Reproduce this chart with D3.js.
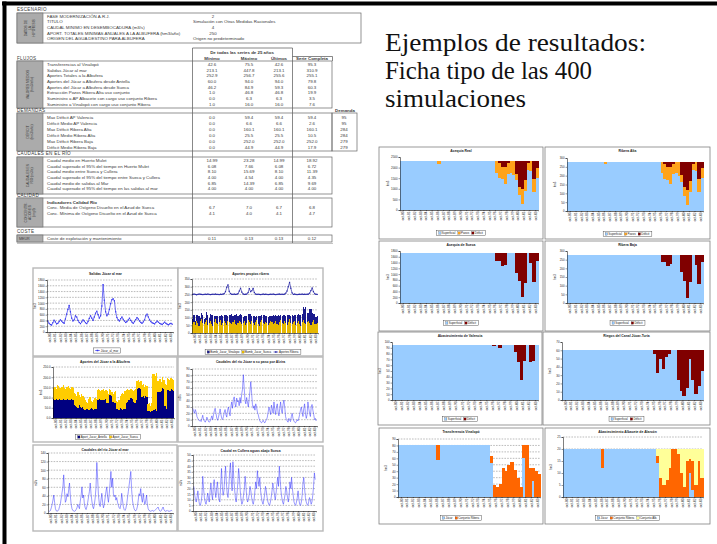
<!DOCTYPE html>
<html lang="es">
<head>
<meta charset="utf-8">
<title>Ficha tipo de simulación</title>
<script src="https://cdn.jsdelivr.net/npm/d3@7/dist/d3.min.js"></script>
<style>
html,body{margin:0;padding:0;background:#fff;}
svg{display:block;}
</style>
</head>
<body>
<svg id="chart" width="717" height="544"></svg>
<script>
// ======================= DATA =======================
const tituloDiapositiva = ["Ejemplos de resultados:", "Ficha tipo de las 400", "simulaciones"];

const hipotesisEtiquetas = ["FASE MODERNIZACIÓN A.R.J.", "TÍTULO", "CAUDAL MÍNIMO EN DESEMBOCADURA (m3/s)", "APORT. TOTALES MÍNIMAS ANUALES A LA ALBUFERA (hm3/año)", "ORIGEN DEL AGUA DESTINO PARA ALBUFERA"];
const hipotesisValores = ["2", "Simulación con Otras Medidas Racionales", "4", "250", "Origen no predeterminado"];
const columnasResumen = ["Mínimo", "Máximo", "Últimos", "Serie Completa"];

const flujosEtiquetas = ["Transferencias al Vinalopó", "Salidas Júcar al mar", "Aportes Totales a la Albufera", "Aportes del Júcar a Albufera desde Antella", "Aportes del Júcar a Albufera desde Sueca", "Extracción Pozos Ribera Alta uso conjunto", "Suministro a AP Albacete con cargo uso conjunto Ribera", "Suministro a Vinalopó con cargo uso conjunto Ribera"];
const flujosValores = [["42.6","75.5","42.6","95.3"],["213.1","447.8","213.1","310.9"],["252.9","256.7","255.6","255.1"],["60.0","94.0","94.0","79.8"],["46.2","84.9","59.3","60.3"],["1.0","46.8","46.8","19.9"],["0.0","6.3","6.3","3.5"],["1.0","16.0","16.0","7.6"]];

const deficitEtiquetas = ["Max Déficit AP Valencia", "Déficit Medio AP Valencia", "Max Déficit Ribera Alta", "Déficit Medio Ribera Alta", "Max Déficit Ribera Baja", "Déficit Medio Ribera Baja"];
const deficitValores = [["0.0","59.4","59.4","59.4"],["0.0","6.6","6.6","2.6"],["0.0","160.1","160.1","160.1"],["0.0","25.5","25.5","10.5"],["0.0","252.0","252.0","252.0"],["0.0","44.9","44.9","17.9"]];
const demandaValores = ["95","95","284","284","279","279"];

const caudalesEtiquetas = ["Caudal medio en Huerto Mulet", "Caudal superado el 95% del tiempo en Huerto Mulet", "Caudal medio entre Sueca y Cullera", "Caudal superado el 95% del tiempo entre Sueca y Cullera", "Caudal medio de salidas al Mar", "Caudal superado el 95% del tiempo en las salidas al mar"];
const caudalesValores = [["14.99","23.28","14.99","18.92"],["6.08","7.66","6.08","6.72"],["8.10","15.69","8.10","11.39"],["4.00","4.54","4.00","4.35"],["6.85","14.39","6.85","9.69"],["4.00","4.00","4.00","4.00"]];

const calidadEtiquetas = ["Conc. Media de Oxígeno Disuelto en el Azud de Sueca", "Conc. Mínima de Oxígeno Disuelto en el Azud de Sueca"];
const calidadValores = [["6.7","7.0","6.7","6.8"],["4.1","4.0","4.1","4.7"]];
const costeEtiquetas = ["Coste de explotación y mantenimiento"];
const costeValores = [["0.11","0.13","0.13","0.12"]];

const etiquetasAnios = ["oct-80","oct-81","oct-82","oct-83","oct-84","oct-85","oct-86","oct-87","oct-88","oct-89","oct-90","oct-91","oct-92","oct-93","oct-94","oct-95","oct-96","oct-97","oct-98","oct-99","oct-00","oct-01","oct-02","oct-03"];

// ---- left charts (monthly / daily series)
const salidasJucarMar = [
380,300,260,240,320,410,350,280,300,360,
420,380,330,300,450,620,780,920,700,480,
380,420,560,520,400,330,290,350,420,380,
320,290,360,470,560,480,400,520,650,720,
600,480,560,900,1640,1100,700,560,620,780,
980,1120,1150,1080,700,500,420,380,460,520,
440,380,330,360,420,480,400,340,300,360,
430,500,450,380,330,300,350,420,560,620,
520,420,360,320,300,280,330,380,340,300,
280,260,300,340,300,270,250,280,300,270];

const aportesRibera = [
250,252,250,248,250,252,251,250,249,250,
251,250,252,250,249,250,251,250,252,250,
250,249,251,250,252,255,268,296,312,270,
255,251,250,252,250,251,255,272,290,265,
253,250,251,252,262,288,268,274,289,262,
252,250,251,250,249,250,252,250,251,250,
249,250,251,250,252,250,249,250,251,252,
250,251,250,252,258,272,300,328,290,260,
250,252,250,249,250,251,250,252,250,251,
250,251,252,258,275,292,268,254,251,250];

const bombJucarSueca = [
60,72,55,80,66,48,75,90,62,58,
70,84,52,66,78,60,45,72,88,64,
56,70,82,50,68,76,62,54,80,70,
64,58,74,86,60,52,68,80,72,56,
66,78,50,62,84,70,58,76,64,52,
72,86,60,48,70,82,66,58,74,62,
50,68,80,72,56,64,78,60,52,70,
84,66,58,76,62,50,72,88,64,56,
70,80,54,66,78,60,48,74,86,62,
58,72,80,66,52,70,84,60,56,68];

const bombJucarVinalopo = [
30,45,20,38,52,60,25,40,55,35,
28,50,62,30,42,58,70,35,22,48,
55,40,30,66,45,38,52,60,28,44,
50,62,36,30,55,68,42,34,48,60,
38,30,58,46,40,52,64,36,44,56,
30,24,48,62,40,34,52,60,38,46,
56,42,30,40,58,48,36,52,62,40,
30,46,56,38,50,64,42,30,48,58,
40,36,60,50,42,58,70,46,80,96,
110,60,52,88,104,58,40,62,50,44];

const aportJucarAntella = [
92,90,94,88,90,92,86,90,94,88,
90,92,88,86,90,92,88,
62,58,55,50,64,56,48,52,
44,40,46,42,40,44,48,42,40,46,44,
90,88,92,90,86,90,88,92,
74,72,112,115,110,76,72,74,
46,42,40,48,44,40,46,42,
72,76,90,96,98,92,80,74,86,
140,145,148,142,
104,108,100,106,102,
32,34,30,36,
40,38,42,36,
128,130,126,132,
146,140,60,44,
136,138,134,140,136,132];

const aportJucarSueca = [
53,60,46,72,65,53,54,60,66,60,
52,58,70,59,50,60,60,
63,62,55,78,51,49,70,58,
56,50,34,33,55,61,37,36,50,54,51,
45,52,46,42,50,50,46,46,
56,46,28,20,18,44,54,58,
39,38,50,62,76,85,72,88,
63,64,48,34,44,44,54,64,54,
40,40,27,40,
56,57,50,56,56,
38,41,30,36,
175,180,163,184,
52,40,64,43,
54,45,105,116,
59,52,54,54,56,53];

const caudalAlzira = [
28,24,20,26,22,15,12,10,8,9,
7,12,17,10,8,6,9,14,11,7,
6,8,12,16,10,18,24,28,20,12,
9,14,20,27,18,12,10,15,22,26,
18,14,25,30,22,16,31,38,28,42,
46,35,30,44,38,40,32,45,36,50,
58,81,62,40,35,45,38,30,42,55,
70,52,34,28,32,25,35,30,22,18,
12,8,6,5,7,9,6,5,8,10,
14,22,30,24,18,33,28,20,38,26,
18,30,35,22,16,28,38,25,20,34,
41,30,15,10,8,6,12,9,7,15,
20,12,8,6,5,7,10,8,12,18,
25,30,22,15,28,35,20,12,18,38,
28,20,15,30,34,25,18,10,12,8];

const caudalMar = [
5,4,6,12,20,30,42,25,10,5,
4,5,8,15,22,35,48,60,89,50,
25,30,45,38,54,70,40,20,10,6,
5,4,5,8,12,20,15,10,28,40,
61,35,42,20,12,8,15,25,38,50,
70,45,28,15,10,20,35,60,118,80,
40,22,15,30,46,25,12,20,35,50,
61,38,25,45,70,97,60,81,45,38,
42,30,36,25,18,12,10,20,46,30,
15,8,6,10,20,35,50,65,80,97,
55,30,18,10,6,5,8,15,30,45,
40,57,35,25,46,30,20,28,42,20,
10,6,5,4,5,6,5,4,6,8,
10,12,14,8,5,4,6,10,14,8,
5,4,5,6,4,5,4,5,6,5];

const caudalCullera = [
22,15,10,8,12,18,10,6,5,8,
14,31,20,12,8,6,10,16,12,8,
18,25,15,10,22,28,18,12,20,26,
15,10,8,24,38,22,14,18,30,40,
25,15,12,22,35,43,28,18,44,30,
20,12,8,15,25,38,30,18,10,6,
8,14,20,31,22,12,8,10,15,22,
18,12,8,6,10,18,26,20,36,28,
22,30,18,12,8,6,10,15,22,18,
12,8,6,5,8,12,18,25,20,14,
10,16,24,30,22,40,28,18,12,8,
6,10,15,22,18,12,8,14,26,20,
30,20,14,8,6,5,8,12,18,10,
6,5,8,14,25,30,20,12,8,6,
5,8,12,10,6,8,14,22,34,28];

// ---- right charts (annual supply vs demand, hm3)
const acequiaRealDemanda = 2300;
const acequiaRealPozos = [0,0,0,0,0,0,0,0,0,0, 0,0,0,120,0,0,0,0,0,0, 0,0,0,0,0,0,0,0,0,0, 0,0,0,550,700,600,800,500,550,650, 300,400,700,500,300,450,600,500];
const acequiaRealDeficit = [0,0,0,0,0,0,0,0,0,0, 0,0,0,0,0,0,0,0,0,0, 0,0,0,0,0,0,0,0,0,0, 0,0,0,0,100,250,250,100,0,0, 600,1200,1300,900,100,0,850,300];

const riberaAltaDemanda = 280;
const riberaAltaPozos = [0,0,0,0,0,0,0,0,0,0, 0,0,0,15,0,0,0,0,0,0, 0,0,0,0,0,0,0,0,0,0, 0,0,0,65,85,75,95,60,65,80, 40,50,85,60,35,55,75,60];
const riberaAltaDeficit = [0,0,0,0,0,0,0,0,0,0, 0,0,0,0,0,0,0,0,0,0, 0,0,0,0,0,0,0,0,0,0, 0,0,0,0,12,30,30,12,0,0, 75,145,160,110,12,0,100,35];

const acequiaSuecaDemanda = 1720;
const acequiaSuecaDeficit = [0,0,0,0,0,0,0,0,0,0, 0,0,0,0,0,0,0,0,0,0, 0,0,0,0,0,0,0,0,0,0, 0,0,0,250,250,450,400,0,0,0, 680,970,1510,1020,0,350,1000,250];

const riberaBajaDemanda = 279;
const riberaBajaDeficit = [0,0,0,0,0,0,0,0,0,0, 0,0,0,0,0,0,0,0,0,0, 0,0,0,0,0,0,0,0,0,0, 0,0,0,40,40,65,55,0,0,0, 100,150,250,160,0,60,170,40];

const valenciaDemanda = 95;
const valenciaDeficit = [0,0,0,0,0,0,0,0,0,0, 0,0,0,0,0,0,0,0,0,0, 0,0,0,0,0,0,0,0,0,0, 0,0,0,2,0,6,0,0,0,0, 12,30,60,28,0,30,28,0];

const turiaDemanda = 60;
const turiaDeficit = [0,0,0,0,0,0,0,0,0,0, 0,0,0,0,0,0,0,0,0,0, 0,0,0,0,0,0,0,0,0,0, 0,5,28,10,22,8,5,0,0,36, 49,55,45,10,36,53,43,25];

const vinalopoJucar = [80,80,80,80,80,80,80,80,80,80, 80,80,80,58,80,80,80,80,80,80, 80,80,80,80,80,80,80,80,80,80, 80,52,0,0,0,0,0,0,0,0, 0,0,60,0,0,25,0,0];
const vinalopoRibera = [0,0,0,0,0,0,0,0,0,0, 0,0,0,22,0,0,0,0,0,0, 0,0,0,0,0,0,0,0,0,0, 0,11,18,15,20,45,40,50,55,42, 30,15,20,80,45,20,40,35];

const albaceteJucar = [20,20,20,20,20,20,20,20,20,20, 20,20,20,12,20,20,20,20,20,20, 20,20,20,20,20,20,20,20,20,20, 20,20,14,0,0,0,0,0,0,0, 0,0,0,10,3,0,0,0];
const albaceteRibera = [0,0,0,0,0,0,0,0,0,0, 0,0,0,8,0,0,0,0,0,0, 0,0,0,0,0,0,0,0,0,0, 0,0,3,8,5,7,12,20,20,18, 10,4,15,6,12,5,15,8];
const albaceteAlb = [0,0,0,0,0,0,0,0,0,0, 0,0,0,0,0,0,0,0,0,0, 0,0,0,0,0,0,0,0,0,0, 0,0,3,12,15,13,8,0,0,2, 10,16,5,4,5,15,5,12];

// ======================= DRAWING =======================
const FONT = "'Liberation Sans', Arial, sans-serif";
const svg = d3.select("#chart");
svg.append("rect").attr("width",717).attr("height",544).attr("fill","#fff");

// slide frame
svg.append("rect").attr("x",2).attr("y",1.5).attr("width",715).attr("height",4).attr("fill","#000");
svg.append("rect").attr("x",2.5).attr("y",1.5).attr("width",4).attr("height",543).attr("fill","#000");

// slide title
const titleWidths = [261, 207, 141];
svg.append("g").selectAll("text").data(tituloDiapositiva).join("text")
  .attr("x",385).attr("y",(d,i)=>51+i*28)
  .attr("font-family","'Liberation Serif','DejaVu Serif',serif").attr("font-size",25).attr("fill","#111")
  .attr("textLength",(d,i)=>titleWidths[i]).attr("lengthAdjust","spacingAndGlyphs")
  .text(d=>d);

// ---------------- summary table ----------------
const tg = svg.append("g").attr("font-family",FONT);
const TF = 4.4, TC = "#3a3a3a";
const colX = [212,249,279,312];
function T(x,y,s,anchor="start",bold=false,size=TF,ls=0){
  tg.append("text").attr("x",x).attr("y",y).attr("text-anchor",anchor).attr("font-size",size)
    .attr("font-weight",bold?"bold":"normal").attr("letter-spacing",ls).attr("fill",TC).text(s);
}
function R(x,y,w,h,fill="none",stroke="#666",sw=0.7){
  tg.append("rect").attr("x",x).attr("y",y).attr("width",w).attr("height",h).attr("fill",fill).attr("stroke",stroke).attr("stroke-width",sw);
}
function L(x1,y1,x2,y2,sw=0.7,c="#555"){
  tg.append("line").attr("x1",x1).attr("y1",y1).attr("x2",x2).attr("y2",y2).attr("stroke",c).attr("stroke-width",sw);
}
function side(x0,y0,x1,y1,lines){
  R(x0,y0,x1-x0,y1-y0,"#ababab","#6a6a6a",0.6);
  const cx=(x0+x1)/2, cy=(y0+y1)/2, n=lines.length, lh=3.8;
  lines.forEach((s,i)=>{
    const x=cx+(i-(n-1)/2)*lh+1.2;
    tg.append("text").attr("transform",`translate(${x},${cy}) rotate(-90)`).attr("text-anchor","middle")
      .attr("font-size",3.3).attr("fill","#3a3a3a").text(s);
  });
}
function filas(etq,vals,cy0,dy){
  etq.forEach((s,i)=>{
    const y=cy0+i*dy+1.5;
    T(47,y,s);
    vals[i].forEach((v,j)=>T(colX[j],y,v,"middle"));
  });
}
// Escenario
T(17,11,"ESCENARIO","start",false,4.6,0.3);
R(17,13,344,30);
side(17,13,43,43,["DATOS DE","LA","HIPÓTESIS"]);
hipotesisEtiquetas.forEach((s,i)=>{
  const y=16+i*5.7+1.5;
  T(47,y,s);
  const v=hipotesisValores[i];
  if(/^\d+$/.test(v)) T(213,y,v,"middle"); else T(193,y,v);
});
// column block
L(192.5,48,292.5,48); L(192.5,48,192.5,243); L(292.5,48,292.5,243);
T(242,53.5,"De todas las series de 25 años","middle",true);
columnasResumen.forEach((s,i)=>T(colX[i],59.5,s,"middle",true));
L(292.5,56.5,332.5,56.5); L(332.5,56.5,332.5,61);
// Flujos
T(17,59.5,"FLUJOS","start",false,4.6,0.3);
R(17,61,315,47);
side(17,61,43,108,["VALORES MEDIOS","(hm3/año)"]);
filas(flujosEtiquetas,flujosValores,64.3,5.7);
// Demandas
T(17,112,"DEMANDAS","start",false,4.6,0.3);
T(345,112,"Demanda","middle",true);
R(17,113,315,38); R(332,113,25,38);
side(17,113,43,151,["DÉFICIT","(hm3/año)"]);
filas(deficitEtiquetas,deficitValores,117.3,6);
demandaValores.forEach((v,i)=>T(344,117.3+i*6+1.5,v,"middle"));
// Caudales
T(17,155,"CAUDALES EN EL RÍO","start",false,4.6,0.3);
R(17,157,315,37);
side(17,157,43,194,["CAUDALES EN","RÍO (m3/s)"]);
filas(caudalesEtiquetas,caudalesValores,160.7,5.6);
// Calidad
T(17,197,"CALIDAD","start",false,4.6,0.3);
R(17,198,315,29);
side(17,198,43,227,["CONCENTR-","ACIONES","(mg/l)"]);
T(47,203.6,"Indicadores Calidad Río","start",true);
filas(calidadEtiquetas,calidadValores,207.6,5.6);
// Coste
T(17,233,"COSTE","start",false,4.6,0.3);
R(17,235,315,7);
R(17,235,26,7,"#ababab","#6a6a6a",0.6);
T(19,240,"MEUR","start",false,3.6);
filas(costeEtiquetas,costeValores,238.5,0);
L(17,243.5,333,243.5,0.5,"#888");

// ---------------- chart helpers ----------------
function panelBase(b,title,titleY,border,bw){
  const g=svg.append("g").attr("font-family",FONT);
  g.append("rect").attr("x",b[0]).attr("y",b[1]).attr("width",b[2]).attr("height",b[3])
    .attr("fill","#fff").attr("stroke",border).attr("stroke-width",bw);
  g.append("text").attr("x",b[0]+b[2]/2).attr("y",titleY).attr("text-anchor","middle")
    .attr("font-size",3.4).attr("font-weight","bold").attr("fill","#222").text(title);
  return g;
}
function yAxis(g,p,y,ticks,fmt,unit){
  const a=g.append("g").attr("transform",`translate(${p[0]},0)`)
    .call(d3.axisLeft(y).tickValues(ticks).tickSize(1.5).tickPadding(1).tickFormat(fmt));
  a.select(".domain").attr("stroke","#000").attr("stroke-width",0.5);
  a.selectAll(".tick line").attr("stroke","#000").attr("stroke-width",0.4);
  a.selectAll("text").attr("font-size",2.9).attr("fill","#222").attr("font-family",FONT);
  g.append("text").attr("transform",`translate(${p[0]-11},${(p[1]+p[3])/2}) rotate(-90)`)
    .attr("text-anchor","middle").attr("font-size",2.8).attr("fill","#222").text(unit);
}
function xAxis(g,p,labels){
  const xs=d3.scalePoint().domain(labels).range([p[0],p[2]]).padding(0.5);
  const a=g.append("g").attr("transform",`translate(0,${p[3]})`)
    .call(d3.axisBottom(xs).tickSize(1.2).tickPadding(0));
  a.select(".domain").attr("stroke","#000").attr("stroke-width",0.6);
  a.selectAll(".tick line").attr("stroke","#000").attr("stroke-width",0.4);
  a.selectAll("text").attr("font-size",3.1).attr("fill","#222").attr("font-family",FONT)
    .attr("text-anchor","end").attr("transform","rotate(-90)").attr("x",-1.6).attr("y",0).attr("dy","0.35em");
}
function grid(g,p,y,ticks){
  g.append("g").selectAll("line").data(ticks.filter(t=>t>0)).join("line")
    .attr("x1",p[0]).attr("x2",p[2]).attr("y1",d=>y(d)).attr("y2",d=>y(d))
    .attr("stroke","#555").attr("stroke-width",0.4).attr("stroke-dasharray","1.6,1.2");
}
function legend(g,cx,cy,items){
  const lg=g.append("g").attr("font-family",FONT);
  const box=lg.append("rect").attr("fill","#fff").attr("stroke","#333").attr("stroke-width",0.4);
  let x=0;
  items.forEach(it=>{
    if(it.type==="line"){
      lg.append("line").attr("x1",x).attr("x2",x+4.5).attr("y1",0).attr("y2",0).attr("stroke",it.color).attr("stroke-width",0.7);
      lg.append("rect").attr("x",x+1.5).attr("y",-0.75).attr("width",1.5).attr("height",1.5).attr("fill",it.color);
      x+=5.5;
    } else {
      lg.append("rect").attr("x",x).attr("y",-1.2).attr("width",2.4).attr("height",2.4).attr("fill",it.color).attr("stroke","#222").attr("stroke-width",0.2);
      x+=3.2;
    }
    const t=lg.append("text").attr("x",x).attr("y",1).attr("font-size",2.9).attr("fill","#222").text(it.name);
    x+=t.node().getComputedTextLength()+2.5;
  });
  const w=x+1;
  box.attr("x",-2).attr("y",-2.6).attr("width",w+1).attr("height",5.2);
  lg.attr("transform",`translate(${cx-(w-3)/2},${cy})`);
}

// ---------------- right panels (stacked supply) ----------------
function rightPanel(o){
  const g=panelBase(o.box,o.title,o.box[1]+5.2,"#808080",0.8);
  const p=o.plot;
  const n=o.layers[0].values.length;
  const x=d3.scaleBand().domain(d3.range(n)).range([p[0],p[2]]);
  const y=d3.scaleLinear().domain([0,o.yMax]).range([p[3],p[1]]);
  const ticks=d3.range(0,o.yMax+o.yStep/2,o.yStep);
  if(o.grid) grid(g,p,y,ticks);
  const keys=o.layers.map((l,j)=>"k"+j);
  const rows=d3.range(n).map(i=>{const r={}; o.layers.forEach((l,j)=>r["k"+j]=l.values[i]); return r;});
  const st=d3.stack().keys(keys)(rows);
  st.forEach((s,j)=>{
    g.append("g").attr("fill",o.layers[j].color).attr("shape-rendering","crispEdges")
      .selectAll("rect").data(s).join("rect")
      .attr("x",(d,i)=>x(i)).attr("width",x.bandwidth()+0.5)
      .attr("y",d=>y(d[1])).attr("height",d=>Math.max(0,y(d[0])-y(d[1])));
  });
  yAxis(g,p,y,ticks,d3.format("d"),"hm3");
  xAxis(g,p,etiquetasAnios);
  legend(g,o.box[0]+o.box[2]/2,o.legendY,o.layers.map(l=>({name:l.name,color:l.color})));
}
const cSup="#99ccff", cPoz="#ffa31a", cDef="#800000", cRib="#ff6600", cAlb="#ffff99";

rightPanel({box:[379,147,164,92],plot:[400,157,538,210],title:"Acequia Real",yMax:2500,yStep:500,legendY:233,
  layers:[{name:"Superficial",color:cSup,values:acequiaRealPozos.map((v,i)=>acequiaRealDemanda-v-acequiaRealDeficit[i])},
          {name:"Pozos",color:cPoz,values:acequiaRealPozos},{name:"Déficit",color:cDef,values:acequiaRealDeficit}]});
rightPanel({box:[545,147,165,92],plot:[567,158,703,211],title:"Ribera Alta",yMax:300,yStep:50,legendY:234,
  layers:[{name:"Superficial",color:cSup,values:riberaAltaPozos.map((v,i)=>riberaAltaDemanda-v-riberaAltaDeficit[i])},
          {name:"Pozos",color:cPoz,values:riberaAltaPozos},{name:"Déficit",color:cDef,values:riberaAltaDeficit}]});
rightPanel({box:[379,241,164,90],plot:[400,251,538,303],title:"Acequia de Sueca",yMax:1800,yStep:200,legendY:323,
  layers:[{name:"Superficial",color:cSup,values:acequiaSuecaDeficit.map(v=>acequiaSuecaDemanda-v)},
          {name:"Déficit",color:cDef,values:acequiaSuecaDeficit}]});
rightPanel({box:[545,241,165,90],plot:[567,251,703,303],title:"Ribera Baja",yMax:300,yStep:50,legendY:323,
  layers:[{name:"Superficial",color:cSup,values:riberaBajaDeficit.map(v=>riberaBajaDemanda-v)},
          {name:"Déficit",color:cDef,values:riberaBajaDeficit}]});
rightPanel({box:[378,332,164,93],plot:[392,342,538,400],title:"Abastecimiento de Valencia",yMax:100,yStep:10,legendY:419,
  layers:[{name:"Superficial",color:cSup,values:valenciaDeficit.map(v=>valenciaDemanda-v)},
          {name:"Déficit",color:cDef,values:valenciaDeficit}]});
rightPanel({box:[543,332,167,93],plot:[562,342,703,400],title:"Riegos del Canal Júcar-Turia",yMax:70,yStep:10,legendY:419,
  layers:[{name:"Superficial",color:cSup,values:turiaDeficit.map(v=>turiaDemanda-v)},
          {name:"Déficit",color:cDef,values:turiaDeficit}]});
rightPanel({box:[379,428,164,96],plot:[398,439,540,497],title:"Transferencia Vinalopó",yMax:90,yStep:10,legendY:518,grid:true,
  layers:[{name:"Júcar",color:cSup,values:vinalopoJucar},{name:"Conjunto Ribera",color:cRib,values:vinalopoRibera}]});
rightPanel({box:[545,428,165,96],plot:[563,437,703,497],title:"Abastecimiento Albacete de Alarcón",yMax:25,yStep:5,legendY:518,grid:true,
  layers:[{name:"Júcar",color:cSup,values:albaceteJucar},{name:"Conjunto Ribera",color:cRib,values:albaceteRibera},{name:"Conjunto Alb.",color:cAlb,values:albaceteAlb}]});

// ---------------- left panels (series) ----------------
function leftPanel(o){
  const g=panelBase(o.box,o.title,o.titleY,"#b8b8b8",1.4);
  const p=o.plot;
  const y=d3.scaleLinear().domain([0,o.yMax]).range([p[3],p[1]]);
  const ticks=d3.range(0,o.yMax+o.yStep/2,o.yStep);
  grid(g,p,y,ticks);
  if(o.bars){
    const n=o.bars[0].values.length;
    const x=d3.scaleBand().domain(d3.range(n)).range([p[0],p[2]]).padding(o.barPad||0);
    const keys=o.bars.map((b,j)=>"k"+j);
    const rows=d3.range(n).map(i=>{const r={}; o.bars.forEach((b,j)=>r["k"+j]=b.values[i]); return r;});
    d3.stack().keys(keys)(rows).forEach((s,j)=>{
      g.append("g").attr("fill",o.bars[j].color).attr("shape-rendering","crispEdges")
        .selectAll("rect").data(s).join("rect")
        .attr("x",(d,i)=>x(i)).attr("width",x.bandwidth()+(o.barPad?0:0.3))
        .attr("y",d=>y(d[1])).attr("height",d=>Math.max(0,y(d[0])-y(d[1])));
    });
  }
  (o.lines||[]).forEach(l=>{
    const x=d3.scaleLinear().domain([0,l.values.length-1]).range([p[0]+0.8,p[2]-0.8]);
    g.append("path").datum(l.values).attr("fill","none").attr("stroke",l.color).attr("stroke-width",l.width)
      .attr("stroke-linejoin","round").attr("d",d3.line().x((d,i)=>x(i)).y(d=>y(d)));
    if(l.markers){
      g.append("g").attr("fill",l.color).selectAll("rect").data(l.values).join("rect")
        .attr("x",(d,i)=>x(i)-0.6).attr("y",d=>y(d)-0.6).attr("width",1.2).attr("height",1.2);
    }
  });
  yAxis(g,p,y,ticks,o.fmt||d3.format("d"),o.unit);
  xAxis(g,p,etiquetasAnios);
  if(o.legend) legend(g,o.legend.cx,o.legend.cy,o.legend.items);
}
const cLine="#3333ee", cNavy="#000080", cGold="#ffcc00";

leftPanel({box:[33,268,145,88],plot:[47,280,173,332],title:"Salidas Júcar al mar",titleY:274.5,yMax:1800,yStep:200,unit:"hm3",
  lines:[{values:salidasJucarMar,color:cLine,width:0.7,markers:true}],
  legend:{cx:107,cy:350.5,items:[{name:"Júcar_al_mar",color:cLine,type:"line"}]}});
leftPanel({box:[178,268,145,88],plot:[192,279,318,333],title:"Aportes propios ribera",titleY:274.5,yMax:350,yStep:50,unit:"hm3",
  bars:[{values:bombJucarSueca,color:"#e6b800"},{values:bombJucarVinalopo,color:"#1a1a8c"}],barPad:0.15,
  lines:[{values:aportesRibera,color:"#2a2aa8",width:0.7,markers:true}],
  legend:{cx:253,cy:352,items:[{name:"Bomb_Jucar_Vinalopo",color:"#1a1a8c"},{name:"Bomb_Jucar_Sueca",color:"#e6b800"},{name:"Aportes Ribera",color:"#2a2aa8",type:"line"}]}});
leftPanel({box:[33,357,144,85],plot:[53,367,174,418],title:"Aportes del Júcar a la Albufera",titleY:363,yMax:250,yStep:50,unit:"hm3",fmt:d3.format(".1f"),
  bars:[{values:aportJucarAntella,color:cNavy},{values:aportJucarSueca,color:cGold}],
  legend:{cx:108,cy:437,items:[{name:"Aport_Jucar_Antella",color:cNavy},{name:"Aport_Jucar_Sueca",color:cGold}]}});
leftPanel({box:[178,357,145,85],plot:[192,369,317,426],title:"Caudales del río Júcar a su paso por Alzira",titleY:363,yMax:90,yStep:10,unit:"m3/s",
  lines:[{values:caudalAlzira,color:"#2020ff",width:0.45}]});
leftPanel({box:[33,445,144,86],plot:[48,453,173,513],title:"Caudales del río Júcar al mar",titleY:451,yMax:140,yStep:20,unit:"m3/s",
  lines:[{values:caudalMar,color:"#2020ff",width:0.45}]});
leftPanel({box:[178,446,145,85],plot:[193,455,316,511],title:"Caudal en Cullera aguas abajo Sueca",titleY:452,yMax:50,yStep:5,unit:"m3/s",
  lines:[{values:caudalCullera,color:"#2020ff",width:0.45}]});
</script>
</body>
</html>
